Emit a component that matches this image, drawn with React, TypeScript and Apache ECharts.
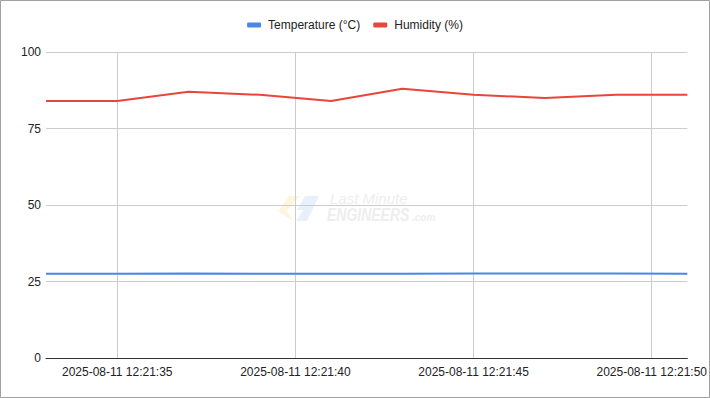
import React, { useEffect, useRef } from "react";
import * as echarts from "echarts";

const timeSeconds = [33, 35, 37, 39, 41, 43, 45, 47, 49, 51];
const temperature = [27.5, 27.5, 27.6, 27.5, 27.5, 27.5, 27.6, 27.6, 27.6, 27.5];
const humidity = [84, 84, 87, 86, 84, 88, 86, 85, 86, 86];
const xTicks = [35, 40, 45, 50];
const yTicks = [0, 25, 50, 75, 100];
const timePrefix = "2025-08-11 12:21:";
const seriesNames = ["Temperature (°C)", "Humidity (%)"];

const pad = (n: number) => (n < 10 ? "0" + n : "" + n);

export default function App() {
  const ref = useRef<HTMLDivElement>(null);
  useEffect(() => {
    if (!ref.current) return;
    const chart = echarts.init(ref.current, undefined, { renderer: "svg" });
    const font = "Arial, 'Liberation Sans', sans-serif";
    chart.setOption({
      animation: false,
      backgroundColor: "#ffffff",
      textStyle: { fontFamily: font },
      legend: {
        top: 14,
        left: "center",
        icon: "roundRect",
        itemWidth: 14,
        itemHeight: 5,
        itemGap: 13,
        textStyle: { fontSize: 12, color: "#222", fontFamily: font, padding: [0, 0, 0, 2] },
        data: seriesNames,
      },
      grid: { left: 46, right: 20, top: 52, bottom: 40, containLabel: false },
      xAxis: {
        type: "value",
        min: timeSeconds[0],
        max: timeSeconds[timeSeconds.length - 1],
        splitNumber: 4,
        axisLine: { show: true, onZero: false, lineStyle: { color: "#333", width: 1 } },
        axisTick: { show: false },
        splitLine: { show: false },
        axisLabel: {
          show: true,
          color: "#222",
          fontSize: 12,
          fontFamily: font,
          margin: 8,
          showMinLabel: true,
          showMaxLabel: true,
          hideOverlap: false,
          customValues: xTicks,
          formatter: (v: number) => timePrefix + pad(v),
        },
      },
      yAxis: {
        type: "value",
        min: yTicks[0],
        max: yTicks[yTicks.length - 1],
        interval: 25,
        axisLine: { show: false },
        axisTick: { show: false },
        splitLine: { show: true, lineStyle: { color: "#cccccc", width: 1 } },
        axisLabel: { color: "#222", fontSize: 12, fontFamily: font, margin: 5 },
      },
      graphic: [
        {
          type: "rect",
          silent: true,
          z: -10,
          shape: { x: 0.5, y: 0.5, width: 709, height: 397 },
          style: { fill: "none", stroke: "#a0a0a0", lineWidth: 1 },
        },
        {
          type: "polygon",
          silent: true,
          z: -5,
          shape: { points: [[289, 196], [300, 196], [287, 211], [293, 221], [278, 211]] },
          style: { fill: "#fdf5dc" },
        },
        {
          type: "polygon",
          silent: true,
          z: -5,
          shape: { points: [[305, 196], [319, 196], [307, 221], [296, 221], [303, 210], [297, 210]] },
          style: { fill: "#e8f1fb" },
        },
        {
          type: "text",
          silent: true,
          z: -5,
          x: 330,
          y: 191,
          style: { text: "Last Minute", font: `italic 15px ${font}`, fill: "#eeeeee" },
        },
        {
          type: "text",
          silent: true,
          z: -5,
          x: 327,
          y: 205,
          scaleY: 1.3,
          style: { text: "ENGINEERS", font: `italic bold 14px ${font}`, fill: "#eeeeee" },
        },
        {
          type: "text",
          silent: true,
          z: -5,
          x: 412,
          y: 212,
          style: { text: ".com", font: `italic bold 10px ${font}`, fill: "#eeeeee" },
        },
      ],
      series: [
        {
          name: seriesNames[0],
          type: "line",
          showSymbol: false,
          lineStyle: { color: "#4a86e8", width: 2 },
          itemStyle: { color: "#4a86e8" },
          data: timeSeconds.map((s, i) => [s, temperature[i]]),
          markLine: {
            silent: true,
            symbol: ["none", "none"],
            label: { show: false },
            z: 1,
            lineStyle: { color: "#cccccc", width: 1, type: "solid" },
            emphasis: { disabled: true },
            data: xTicks.map((t) => ({ xAxis: t })),
          },
          z: 3,
        },
        {
          name: seriesNames[1],
          type: "line",
          showSymbol: false,
          lineStyle: { color: "#e8453c", width: 2 },
          itemStyle: { color: "#e8453c" },
          data: timeSeconds.map((s, i) => [s, humidity[i]]),
          z: 3,
        },
      ],
    });
    return () => chart.dispose();
  }, []);
  return (
    <div
      ref={ref}
      style={{ position: "absolute", left: 0, top: 0, width: 710, height: 398 }}
    />
  );
}
